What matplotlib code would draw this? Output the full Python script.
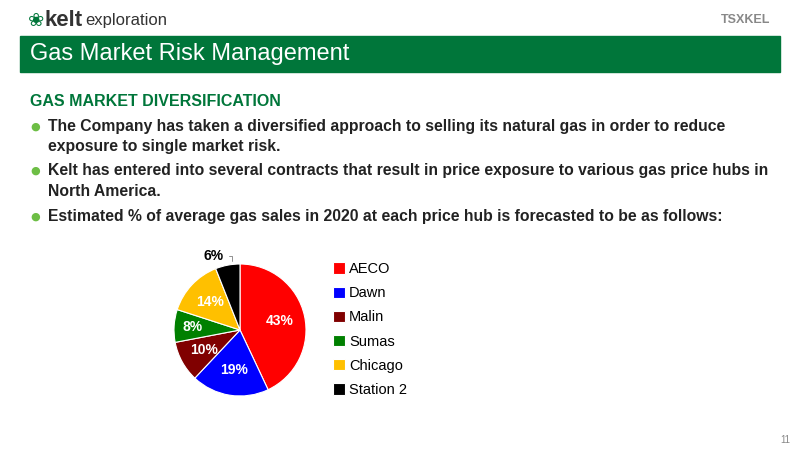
import matplotlib
matplotlib.use("Agg")
import matplotlib.pyplot as plt
from matplotlib.patches import Rectangle
import numpy as np

hubs = ["AECO", "Dawn", "Malin", "Sumas", "Chicago", "Station 2"]
shares = [43, 19, 10, 8, 14, 6]
colors = ["#FF0000", "#0000FF", "#800000", "#008000", "#FFC000", "#000000"]

plt.rcParams['font.family'] = ['Liberation Sans', 'DejaVu Sans']
fig = plt.figure(figsize=(8, 4.5), dpi=100)
W, H = 800, 450
def fx(x): return x / W
def fy(y): return 1 - y / H

green = "#00763A"
fig.patches.append(Rectangle((fx(20), fy(72)), fx(760), 36 / H, transform=fig.transFigure,
                             color=green, zorder=0))
fig.text(fx(30), fy(54), "Gas Market Risk Management", color="white", fontsize=17, va="center")
fig.text(fx(28), fy(20), "❀", color=green, fontsize=14, va="center", family=['DejaVu Sans'])
fig.text(fx(45), fy(20), "kelt", color="#333333", fontsize=16, fontweight="bold", va="center")
fig.text(fx(85), fy(21), "exploration", color="#333333", fontsize=12, va="center")
fig.text(fx(770), fy(20), "TSXKEL", color="#888888", fontsize=9, fontweight="bold", va="center", ha="right")

fig.text(fx(30), fy(101), "GAS MARKET DIVERSIFICATION", color=green, fontsize=11.5,
         fontweight="bold", va="center")
bul = [(127, True, "The Company has taken a diversified approach to selling its natural gas in order to reduce"),
       (147, False, "exposure to single market risk."),
       (171, True, "Kelt has entered into several contracts that result in price exposure to various gas price hubs in"),
       (191, False, "North America."),
       (217, True, "Estimated % of average gas sales in 2020 at each price hub is forecasted to be as follows:")]
for y, dot, txt in bul:
    if dot:
        fig.text(fx(30), fy(y), "●", color="#6DBE45", fontsize=8, va="center", family=['DejaVu Sans'])
    fig.text(fx(48), fy(y), txt, color="#222222", fontsize=11.3, fontweight="bold", va="center")

r = 66
ax = fig.add_axes([fx(240 - r), fy(330 + r), 2 * r / W, 2 * r / H])
wedges, texts = ax.pie(shares, colors=colors, startangle=90, counterclock=False,
                       wedgeprops=dict(edgecolor="white", linewidth=0.8))
ax.set_xlim(-1, 1); ax.set_ylim(-1, 1)
ax.set_aspect("equal")
ax.set_clip_on(False)
ang = 90.0
for w, s in zip(wedges, shares):
    mid = np.deg2rad(ang - s * 3.6 / 2)
    ang -= s * 3.6
    if s == 6:
        ax.annotate(f"{s}%", xy=(-0.12, 1.0), xytext=(-0.4, 1.12),
                    fontsize=10, fontweight="bold", color="black", ha="center", va="center",
                    arrowprops=dict(arrowstyle="-", color="gray", lw=0.6,
                                    connectionstyle="angle,angleA=0,angleB=90"))
        continue
    rr = 0.62 if s != 8 else 0.72
    ax.text(rr * np.cos(mid), rr * np.sin(mid), f"{s}%", color="white", fontsize=10,
            fontweight="bold", ha="center", va="center")

fig.legend(wedges, hubs, loc="upper left", bbox_to_anchor=(fx(333), fy(262)), frameon=False,
           fontsize=10.5, handlelength=0.8, handleheight=0.8, handletextpad=0.3, labelspacing=0.7,
           borderaxespad=0, borderpad=0)
fig.text(fx(790), fy(440), "11", fontsize=7, color="#888888", ha="right", va="center")
fig.savefig("out.png", dpi=100)
